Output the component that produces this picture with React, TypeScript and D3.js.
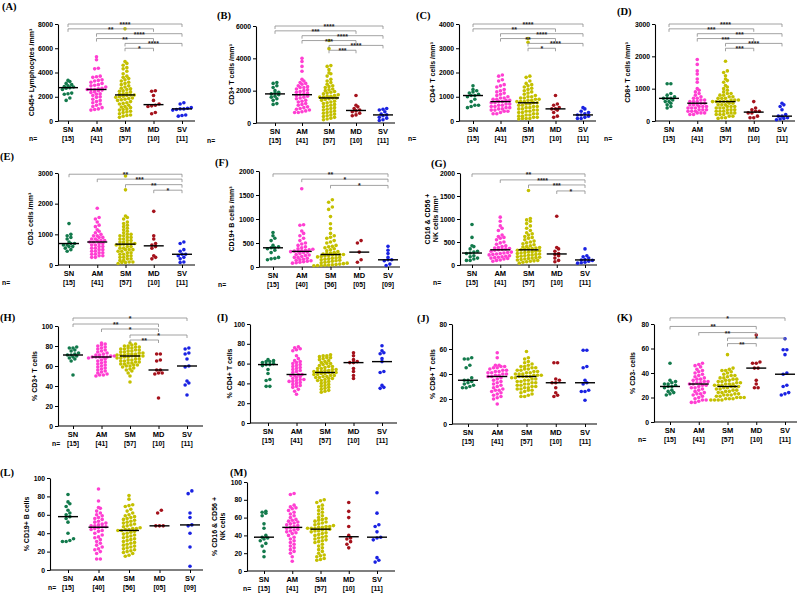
import React, { useRef, useEffect } from "react";
import * as d3 from "d3";

const groups = ["SN", "AM", "SM", "MD", "SV"];
const groupColors = ["#137a4c", "#ff3fd2", "#c4c000", "#a5121c", "#1a22e2"];
const nFull = ["[15]", "[41]", "[57]", "[10]", "[11]"];
const nShort = ["[15]", "[40]", "[56]", "[05]", "[09]"];

// absolute counts (cells / mm3), one list per group: SN, AM, SM, MD, SV
const cd45Abs = [
  [3350, 3250, 3100, 3000, 2900, 2850, 2800, 2750, 2700, 2600, 2300, 2250, 2200, 1900, 1700],
  [5300, 5050, 4350, 4300, 3700, 3650, 3600, 3400, 3350, 3300, 3200, 3100, 3000, 2950, 2900, 2800, 2700, 2650, 2600, 2600, 2600, 2550, 2500, 2400, 2350, 2250, 2200, 2100, 2000, 1950, 1800, 1700, 1600, 1500, 1400, 1300, 1200, 1100, 1000, 950, 900],
  [7600, 4900, 4750, 4600, 4400, 4300, 4100, 3900, 3700, 3600, 3500, 3400, 3300, 3200, 3100, 3000, 2900, 2800, 2700, 2650, 2600, 2500, 2450, 2400, 2300, 2250, 2200, 2150, 2150, 2100, 2050, 2000, 1950, 1900, 1850, 1800, 1750, 1700, 1600, 1500, 1450, 1400, 1300, 1200, 1150, 1100, 1000, 950, 900, 800, 750, 700, 600, 500, 450, 400, 300],
  [2500, 2450, 2100, 1700, 1400, 1300, 1250, 1200, 700, 600],
  [1500, 1400, 1100, 1050, 1000, 1000, 950, 900, 500, 450, 400],
];
const cd3Abs = [
  [2500, 2450, 2300, 2200, 2000, 1900, 1850, 1800, 1750, 1650, 1600, 1500, 1400, 1200, 1150],
  [4000, 3800, 3500, 3200, 2700, 2600, 2500, 2450, 2400, 2300, 2250, 2200, 2200, 2100, 2050, 2000, 1950, 1900, 1850, 1800, 1750, 1700, 1650, 1600, 1550, 1500, 1400, 1350, 1300, 1200, 1150, 1100, 1000, 950, 900, 850, 800, 750, 700, 650, 650],
  [5100, 4600, 3550, 3500, 3300, 3100, 3050, 2900, 2700, 2600, 2500, 2400, 2300, 2250, 2200, 2100, 2050, 2000, 1950, 1900, 1850, 1800, 1750, 1700, 1650, 1650, 1600, 1600, 1550, 1550, 1500, 1450, 1400, 1350, 1300, 1250, 1200, 1150, 1100, 1050, 1000, 950, 900, 850, 800, 750, 700, 650, 600, 550, 500, 450, 400, 350, 300, 250, 200],
  [1700, 1100, 1000, 900, 800, 750, 700, 600, 500, 450],
  [900, 850, 800, 700, 550, 500, 450, 350, 300, 200, 150],
];
const cd4Abs = [
  [1450, 1300, 1250, 1200, 1150, 1100, 1050, 1050, 1000, 900, 800, 650, 650, 600, 550],
  [1900, 1850, 1700, 1650, 1500, 1450, 1400, 1300, 1250, 1200, 1150, 1100, 1050, 1000, 950, 950, 900, 900, 850, 850, 800, 800, 750, 750, 700, 700, 650, 650, 600, 600, 550, 550, 500, 500, 450, 450, 400, 400, 350, 300, 300],
  [3400, 3250, 1850, 1800, 1650, 1550, 1500, 1450, 1400, 1350, 1300, 1250, 1200, 1150, 1100, 1050, 1000, 1000, 950, 950, 900, 900, 850, 850, 800, 800, 800, 750, 750, 700, 700, 650, 650, 600, 600, 550, 550, 500, 500, 450, 450, 400, 400, 350, 350, 300, 300, 250, 250, 200, 200, 150, 150, 100, 100, 100, 80],
  [1050, 700, 650, 550, 500, 500, 450, 350, 200, 150],
  [550, 500, 400, 350, 300, 250, 250, 200, 150, 100, 100],
];
const cd8Abs = [
  [1150, 1150, 850, 800, 750, 700, 700, 700, 650, 600, 600, 550, 500, 450, 400],
  [1900, 1750, 1550, 1450, 1300, 1200, 1000, 950, 900, 850, 800, 750, 700, 700, 650, 650, 600, 600, 600, 550, 550, 500, 500, 500, 450, 450, 450, 400, 400, 400, 350, 350, 350, 300, 300, 300, 250, 250, 250, 200, 200],
  [1850, 1550, 1500, 1400, 1300, 1250, 1200, 1100, 1050, 1000, 950, 900, 850, 850, 800, 800, 750, 750, 700, 700, 700, 650, 650, 650, 600, 600, 600, 600, 600, 550, 550, 500, 500, 500, 450, 450, 450, 400, 400, 400, 350, 350, 350, 300, 300, 300, 250, 250, 250, 200, 200, 200, 150, 150, 100, 100, 80],
  [600, 400, 350, 300, 300, 250, 250, 150, 100, 100],
  [550, 500, 450, 350, 200, 150, 150, 100, 80, 60, 40],
];
const cd3negAbs = [
  [1350, 1000, 950, 900, 850, 750, 700, 700, 650, 650, 600, 600, 550, 500, 450],
  [1850, 1550, 1500, 1400, 1300, 1250, 1150, 1100, 1050, 1000, 950, 950, 900, 900, 850, 850, 800, 800, 800, 750, 750, 700, 700, 650, 650, 600, 600, 550, 550, 500, 500, 450, 450, 400, 400, 350, 350, 300, 300, 250, 250],
  [2900, 2450, 1600, 1550, 1500, 1400, 1350, 1300, 1250, 1200, 1150, 1100, 1050, 1000, 1000, 950, 950, 900, 900, 850, 850, 800, 800, 750, 750, 700, 700, 700, 680, 650, 650, 600, 600, 550, 550, 500, 500, 500, 450, 450, 400, 400, 350, 350, 300, 300, 250, 250, 200, 200, 150, 150, 100, 100, 80, 80, 50],
  [1750, 950, 850, 700, 650, 600, 550, 300, 250, 200],
  [750, 700, 500, 450, 350, 350, 300, 250, 200, 100, 80],
];
const cd19Abs = [
  [720, 650, 600, 550, 450, 420, 400, 400, 380, 350, 300, 200, 180, 170, 150],
  [1630, 880, 870, 750, 700, 650, 600, 550, 500, 480, 450, 420, 400, 380, 370, 360, 350, 340, 330, 330, 320, 310, 300, 280, 260, 250, 240, 220, 200, 200, 180, 160, 150, 140, 130, 120, 110, 100, 90, 80],
  [1400, 1350, 1250, 1200, 1050, 900, 800, 700, 650, 620, 600, 550, 520, 500, 450, 430, 420, 400, 380, 360, 340, 320, 300, 290, 280, 270, 260, 260, 260, 250, 240, 230, 220, 210, 200, 190, 180, 170, 160, 150, 140, 130, 120, 110, 100, 90, 80, 70, 60, 50, 45, 40, 35, 30, 30, 25],
  [550, 500, 310, 150, 100],
  [430, 350, 280, 200, 150, 150, 130, 60, 30],
];
const nkAbs = [
  [880, 600, 420, 400, 350, 300, 280, 260, 250, 200, 180, 150, 130, 100, 100],
  [1040, 950, 850, 800, 750, 650, 620, 600, 580, 550, 500, 480, 450, 420, 400, 380, 370, 360, 350, 340, 330, 320, 300, 280, 270, 260, 250, 240, 230, 220, 200, 190, 180, 170, 160, 150, 140, 130, 110, 100, 80],
  [1620, 1010, 980, 950, 900, 850, 800, 750, 700, 680, 650, 620, 600, 580, 550, 520, 500, 480, 460, 440, 420, 400, 390, 380, 370, 360, 350, 340, 330, 320, 310, 300, 290, 280, 270, 260, 250, 240, 230, 220, 210, 200, 190, 180, 170, 160, 150, 140, 130, 120, 110, 100, 90, 80, 70, 60, 40],
  [1060, 380, 350, 300, 250, 230, 200, 150, 100, 70],
  [350, 200, 180, 150, 120, 110, 100, 80, 60, 50, 40],
];

// percentages
const cd3Pct = [
  [79, 78, 78, 76, 75, 73, 72, 71, 71, 70, 69, 68, 67, 65, 51],
  [83, 82, 81, 80, 79, 78, 77, 76, 75, 74, 73, 72, 71, 71, 70, 70, 69, 69, 69, 69, 69, 68, 67, 66, 65, 64, 63, 62, 61, 60, 59, 58, 57, 56, 55, 54, 53, 52, 51, 51, 50],
  [83, 82, 81, 80, 80, 79, 79, 78, 78, 77, 77, 76, 76, 75, 75, 74, 74, 73, 73, 72, 72, 72, 71, 71, 71, 70, 70, 70, 70, 69, 69, 68, 68, 67, 67, 66, 66, 65, 65, 64, 64, 63, 63, 62, 62, 61, 61, 60, 60, 59, 58, 57, 56, 55, 53, 50, 44],
  [72, 72, 66, 65, 56, 56, 53, 53, 52, 28],
  [78, 77, 73, 72, 67, 60, 59, 45, 43, 41, 31],
];
const cd4Pct = [
  [64, 63, 62, 62, 61, 60, 59, 59, 58, 54, 50, 44, 43, 37, 37],
  [77, 76, 75, 74, 73, 68, 65, 63, 62, 61, 60, 59, 58, 57, 56, 55, 54, 53, 52, 51, 49, 49, 48, 48, 47, 46, 45, 44, 44, 43, 42, 42, 41, 40, 39, 38, 37, 36, 34, 32, 29],
  [69, 68, 68, 67, 66, 66, 65, 64, 63, 62, 61, 60, 60, 59, 58, 57, 57, 56, 55, 55, 54, 54, 53, 53, 52, 52, 52, 51, 51, 51, 50, 50, 49, 49, 48, 48, 47, 47, 46, 46, 45, 45, 44, 43, 43, 42, 41, 40, 39, 38, 37, 36, 35, 34, 33, 32, 31],
  [71, 68, 64, 62, 61, 61, 55, 52, 48, 45],
  [78, 73, 71, 70, 65, 62, 52, 51, 38, 36, 35],
];
const cd8Pct = [
  [53, 52, 52, 47, 45, 37, 35, 35, 34, 33, 32, 31, 30, 29, 29],
  [57, 53, 47, 47, 46, 46, 45, 45, 44, 43, 43, 42, 42, 41, 41, 40, 40, 39, 39, 38, 38, 37, 36, 35, 34, 33, 32, 31, 30, 29, 28, 27, 27, 26, 25, 24, 23, 22, 21, 20, 16],
  [58, 53, 52, 50, 49, 48, 47, 46, 46, 45, 45, 44, 44, 43, 43, 42, 42, 41, 41, 40, 40, 40, 39, 39, 39, 38, 38, 38, 38, 37, 37, 36, 36, 35, 35, 34, 34, 33, 33, 32, 32, 31, 31, 30, 30, 29, 29, 28, 28, 27, 27, 26, 25, 24, 23, 22, 22],
  [49, 49, 36, 35, 33, 33, 29, 25, 23, 22],
  [59, 59, 46, 45, 35, 33, 32, 27, 26, 26, 19],
];
const cd3negPct = [
  [48, 34, 33, 32, 31, 31, 30, 29, 29, 28, 26, 25, 24, 23, 22],
  [48, 47, 46, 45, 43, 42, 41, 40, 39, 38, 37, 36, 35, 35, 34, 33, 33, 32, 32, 31, 31, 30, 30, 29, 28, 28, 27, 26, 25, 24, 23, 23, 22, 21, 20, 19, 18, 18, 17, 16, 16],
  [55, 44, 43, 42, 42, 41, 40, 39, 38, 38, 37, 36, 36, 35, 35, 34, 34, 33, 33, 32, 32, 31, 31, 31, 30, 30, 30, 29, 29, 29, 28, 28, 27, 27, 26, 26, 25, 25, 24, 24, 23, 23, 22, 22, 22, 21, 21, 20, 20, 20, 19, 19, 19, 18, 18, 18, 18],
  [71, 49, 48, 48, 44, 44, 34, 31, 28, 28],
  [68, 59, 59, 55, 40, 39, 30, 29, 24, 23, 22],
];
const cd19Pct = [
  [82, 74, 72, 69, 65, 62, 60, 58, 56, 52, 40, 34, 32, 31, 31],
  [88, 75, 68, 67, 64, 62, 60, 59, 57, 56, 55, 53, 52, 51, 50, 49, 48, 48, 47, 47, 46, 45, 44, 43, 42, 40, 38, 36, 35, 33, 31, 29, 27, 25, 23, 22, 20, 18, 12, 12],
  [81, 77, 71, 70, 69, 66, 64, 62, 60, 59, 58, 57, 56, 55, 54, 53, 52, 51, 50, 49, 48, 47, 46, 45, 45, 44, 44, 43, 43, 42, 41, 40, 39, 38, 37, 36, 35, 34, 33, 32, 31, 30, 29, 28, 27, 26, 25, 24, 23, 22, 21, 20, 19, 18, 16, 15],
  [65, 62, 48, 48, 48],
  [86, 83, 62, 57, 49, 48, 40, 25, 4],
];
const nkPct = [
  [67, 66, 65, 62, 53, 48, 40, 38, 37, 36, 34, 31, 28, 22, 16],
  [87, 86, 74, 72, 71, 70, 68, 66, 64, 62, 60, 58, 57, 56, 55, 54, 53, 52, 51, 50, 49, 48, 47, 46, 45, 44, 43, 42, 40, 38, 36, 34, 32, 30, 28, 26, 24, 22, 20, 16, 11],
  [80, 79, 77, 74, 72, 70, 68, 66, 64, 62, 60, 59, 58, 57, 56, 55, 54, 53, 52, 51, 50, 50, 49, 49, 48, 48, 48, 47, 47, 46, 45, 45, 44, 43, 42, 41, 40, 39, 38, 37, 36, 35, 34, 33, 32, 30, 28, 26, 24, 22, 20, 18, 17, 16, 14, 13, 12],
  [77, 67, 60, 50, 40, 37, 36, 33, 30, 26],
  [88, 65, 52, 50, 44, 38, 37, 35, 15, 12, 10],
];

// significance brackets: from, to, y value, stars
const sigA = [["SN", "SV", 8000, "****"], ["SN", "MD", 7600, "**"], ["AM", "SV", 7200, "****"], ["AM", "MD", 6800, "**"], ["SM", "SV", 6400, "****"], ["SM", "MD", 6000, "*"]];
const sigB = [["SN", "SV", 6000, "****"], ["SN", "MD", 5700, "***"], ["AM", "SV", 5400, "****"], ["AM", "MD", 5100, "***"], ["SM", "SV", 4800, "****"], ["SM", "MD", 4500, "***"]];
const sigC = [["SN", "SV", 4000, "****"], ["SN", "MD", 3800, "**"], ["AM", "SV", 3600, "****"], ["AM", "MD", 3400, "**"], ["SM", "SV", 3200, "****"], ["SM", "MD", 3000, "*"]];
const sigD = [["SN", "SV", 3000, "****"], ["SN", "MD", 2850, "***"], ["AM", "SV", 2700, "***"], ["AM", "MD", 2550, "***"], ["SM", "SV", 2400, "****"], ["SM", "MD", 2250, "***"]];
const sigE = [["SN", "SV", 2960, "**"], ["AM", "SV", 2800, "***"], ["SM", "SV", 2620, "**"], ["MD", "SV", 2440, "*"]];
const sigF = [["SN", "SV", 1940, "**"], ["AM", "SV", 1830, "*"], ["SM", "SV", 1700, "*"]];
const sigG = [["SN", "SV", 1980, "**"], ["AM", "SV", 1850, "****"], ["SM", "SV", 1740, "***"], ["MD", "SV", 1610, "*"]];
const sigH = [["SN", "SV", 108, "*"], ["SN", "MD", 102, "**"], ["AM", "MD", 97, "*"], ["SM", "SV", 91, "*"], ["SM", "MD", 86, "**"]];
const sigK = [["SN", "SV", 85, "*"], ["SN", "MD", 78, "**"], ["AM", "MD", 73, "**"], ["SM", "SV", 68.5, "*"], ["SM", "MD", 64, "**"]];

const absTicks8 = [0, 2000, 4000, 6000, 8000];
const absTicks6 = [0, 2000, 4000, 6000];
const absTicks4 = [0, 1000, 2000, 3000, 4000];
const absTicks3 = [0, 1000, 2000, 3000];
const absTicks2 = [0, 500, 1000, 1500, 2000];
const pctTicks100 = [0, 20, 40, 60, 80, 100];
const pctTicks80 = [0, 20, 40, 60, 80];

const panels = [
  { id: "(A)", data: cd45Abs, title: ["CD45+ Lymphocytes /mm³"], n: nFull, ticks: absTicks8, sig: sigA, axisX: 58, xEnd: 195, cat: [68, 182], yTop: 24, yZero: 121, lab: [2, 10], nX: 29, tOff: 26 },
  { id: "(B)", data: cd3Abs, title: ["CD3+ T cells /mm³"], n: nFull, ticks: absTicks6, sig: sigB, axisX: 256, xEnd: 395, cat: [275, 383], yTop: 26, yZero: 123, lab: [217, 19], nX: 207, tOff: 24 },
  { id: "(C)", data: cd4Abs, title: ["CD4+ T cells /mm³"], n: nFull, ticks: absTicks4, sig: sigC, axisX: 459, xEnd: 596, cat: [473, 583], yTop: 24, yZero: 121, lab: [416, 19], nX: 408, tOff: 26 },
  { id: "(D)", data: cd8Abs, title: ["CD8+ T cells /mm³"], n: nFull, ticks: absTicks3, sig: sigD, axisX: 655, xEnd: 795, cat: [669, 782], yTop: 24, yZero: 121, lab: [617, 15], nX: 604, tOff: 27 },
  { id: "(E)", data: cd3negAbs, title: ["CD3- cells /mm³"], n: nFull, ticks: absTicks3, sig: sigE, axisX: 58, xEnd: 195, cat: [69, 182], yTop: 173, yZero: 265, lab: [0, 160], nX: 2, tOff: 27 },
  { id: "(F)", data: cd19Abs, title: ["CD19+ B cells /mm³"], n: nShort, ticks: absTicks2, sig: sigF, axisX: 259, xEnd: 400, cat: [273, 388], yTop: 171, yZero: 267, lab: [215, 166], nX: 218, tOff: 27 },
  { id: "(G)", data: nkAbs, title: ["CD16 & CD56 +", "NK cells /mm³"], n: nFull, ticks: absTicks2, sig: sigG, axisX: 460, xEnd: 597, cat: [472, 585], yTop: 173, yZero: 265, lab: [431, 167], nX: 433, tOff: 28 },
  { id: "(H)", data: cd3Pct, title: ["% CD3+ T cells"], n: nFull, ticks: pctTicks100, sig: sigH, axisX: 58, xEnd: 203, cat: [73, 187], yTop: 326, yZero: 426, lab: [0, 321], nX: 52, tOff: 23 },
  { id: "(I)", data: cd4Pct, title: ["% CD4+ T cells"], n: nFull, ticks: pctTicks100, sig: [], axisX: 250, xEnd: 397, cat: [268, 382], yTop: 324, yZero: 423, lab: [217, 321], nX: null, tOff: 20 },
  { id: "(J)", data: cd8Pct, title: ["% CD8+ T cells"], n: nFull, ticks: pctTicks80, sig: [], axisX: 452, xEnd: 597, cat: [468, 585], yTop: 324, yZero: 424, lab: [417, 322], nX: null, tOff: 19 },
  { id: "(K)", data: cd3negPct, title: ["% CD3- cells"], n: nFull, ticks: pctTicks80, sig: sigK, axisX: 654, xEnd: 797, cat: [670, 785], yTop: 324, yZero: 422, lab: [617, 321], nX: 638, tOff: 21 },
  { id: "(L)", data: cd19Pct, title: ["% CD19+ B cells"], n: nShort, ticks: pctTicks100, sig: [], axisX: 50, xEnd: 203, cat: [68, 190], yTop: 478, yZero: 570, lab: [0, 476], nX: 48, tOff: 23 },
  { id: "(M)", data: nkPct, title: ["% CD16 & CD56 +", "NK cells"], n: nFull, ticks: pctTicks100, sig: [], axisX: 247, xEnd: 395, cat: [264, 377], yTop: 482, yZero: 571, lab: [230, 476], nX: 243, tOff: 28 },
];

const font = "Arial, 'Liberation Sans', sans-serif";
const R = 1.8;
const STEP = 3.7; // horizontal spacing of side-by-side dots
const ROW = 2.8; // vertical closeness that pushes dots sideways

// simple beeswarm: points closer than ROW px are spread sideways
function swarm(vals, y, cx) {
  const pts = vals.map((v) => ({ v, py: y(v) })).sort((a, b) => b.py - a.py);
  const out = [];
  let row = [];
  const flush = () => {
    row.forEach((p, i) => out.push({ x: cx + (i - (row.length - 1) / 2) * STEP, y: p.py }));
    row = [];
  };
  pts.forEach((p) => {
    if (row.length && row[0].py - p.py >= ROW) flush();
    row.push(p);
  });
  flush();
  return out;
}

function App() {
  const svgRef = useRef(null);

  useEffect(() => {
    const svg = d3.select(svgRef.current);
    svg.selectAll("*").remove();

    panels.forEach((p) => {
      const g = svg.append("g");
      const max = p.ticks[p.ticks.length - 1];
      const y = d3.scaleLinear().domain([0, max]).range([p.yZero, p.yTop]);
      const x = d3.scalePoint().domain(groups).range(p.cat);

      // panel letter
      g.append("text")
        .attr("x", p.lab[0])
        .attr("y", p.lab[1])
        .attr("font-family", "'Liberation Serif', 'Times New Roman', serif")
        .attr("font-weight", "bold")
        .attr("font-size", 10.5)
        .text(p.id);

      // y axis
      const ya = g
        .append("g")
        .attr("transform", `translate(${p.axisX},0)`)
        .call(
          d3
            .axisLeft(y)
            .tickValues(p.ticks)
            .tickFormat(d3.format("d"))
            .tickSize(3)
            .tickSizeOuter(0)
            .tickPadding(2)
        );
      ya.attr("font-family", font);
      ya.select(".domain").attr("stroke-width", 1.1);
      ya.selectAll("line").attr("stroke-width", 1);
      ya.selectAll("text").attr("font-family", font).attr("font-weight", "bold").attr("font-size", 6.8);

      // y title
      const t = g
        .append("text")
        .attr("transform", `translate(${p.axisX - p.tOff},${(p.yTop + p.yZero) / 2}) rotate(-90)`)
        .attr("text-anchor", "middle")
        .attr("font-family", font)
        .attr("font-weight", "bold")
        .attr("font-size", 7);
      p.title.forEach((line, i) => {
        t.append("tspan")
          .attr("x", 0)
          .attr("dy", i === 0 ? (p.title.length > 1 ? "-0.25em" : "0.35em") : "1.15em")
          .text(line);
      });

      // x axis
      g.append("line")
        .attr("x1", p.axisX)
        .attr("x2", p.xEnd)
        .attr("y1", p.yZero)
        .attr("y2", p.yZero)
        .attr("stroke", "black")
        .attr("stroke-width", 1.1);
      const xa = g
        .append("g")
        .attr("transform", `translate(0,${p.yZero})`)
        .call(d3.axisBottom(x).tickSize(3).tickFormat(() => ""));
      xa.select(".domain").remove();

      groups.forEach((gr, i) => {
        g.append("text")
          .attr("x", x(gr))
          .attr("y", p.yZero + 11)
          .attr("text-anchor", "middle")
          .attr("font-family", font)
          .attr("font-weight", "bold")
          .attr("font-size", 7.5)
          .text(gr);
        g.append("text")
          .attr("x", x(gr))
          .attr("y", p.yZero + 19.5)
          .attr("text-anchor", "middle")
          .attr("font-family", font)
          .attr("font-weight", "bold")
          .attr("font-size", 6.8)
          .text(p.n[i]);
      });
      if (p.nX !== null) {
        g.append("text")
          .attr("x", p.nX)
          .attr("y", p.yZero + 19.5)
          .attr("font-family", font)
          .attr("font-weight", "bold")
          .attr("font-size", 6.8)
          .text("n=");
      }

      // dots + median
      p.data.forEach((vals, i) => {
        const cx = x(groups[i]);
        g.append("g")
          .selectAll("circle")
          .data(swarm(vals, y, cx))
          .join("circle")
          .attr("cx", (d) => d.x)
          .attr("cy", (d) => d.y)
          .attr("r", R)
          .attr("fill", groupColors[i]);
        const med = d3.median(vals);
        g.append("line")
          .attr("x1", cx - 10)
          .attr("x2", cx + 10)
          .attr("y1", y(med))
          .attr("y2", y(med))
          .attr("stroke", "black")
          .attr("stroke-width", 1.4);
      });

      // significance brackets
      p.sig.forEach(([a, b, v, stars]) => {
        const yy = y(v);
        g.append("path")
          .attr("d", `M${x(a)},${yy + 3}V${yy}H${x(b)}V${yy + 3}`)
          .attr("fill", "none")
          .attr("stroke", "#8a8a8a")
          .attr("stroke-width", 0.8);
        g.append("text")
          .attr("x", (x(a) + x(b)) / 2)
          .attr("y", yy + 3)
          .attr("text-anchor", "middle")
          .attr("font-family", font)
          .attr("font-weight", "bold")
          .attr("font-size", 7)
          .attr("fill", "#222")
          .text(stars);
      });
    });
  }, []);

  return (
    <svg
      ref={svgRef}
      width={800}
      height={594}
      style={{ position: "absolute", left: 0, top: 0, background: "white" }}
    ></svg>
  );
}

export default App;
